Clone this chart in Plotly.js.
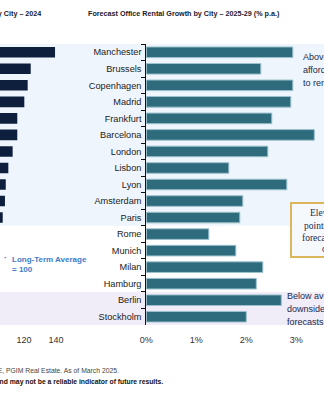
<!DOCTYPE html>
<html>
<head>
<meta charset="utf-8">
<script src="https://cdn.plot.ly/plotly-3.0.1.min.js"></script>
<style>
html,body{margin:0;padding:0;background:#fff;}
#chart{width:324px;height:400px;}
</style>
</head>
<body>
<div id="chart"></div>
<script>
// ---- data ----
const cities = ["Manchester","Brussels","Copenhagen","Madrid","Frankfurt","Barcelona","London","Lisbon","Lyon","Amsterdam","Paris","Rome","Munich","Milan","Hamburg","Berlin","Stockholm"];
const affordability2024 = [139.4,124.2,122.3,120.2,115.8,115.8,112.9,110.2,108.6,108.1,106.7,101,99,97,95,92,90];
const rentalGrowth2529 = [2.93,2.29,2.93,2.89,2.51,3.36,2.43,1.65,2.81,1.93,1.87,1.25,1.79,2.33,2.20,2.70,2.00];
const leftTicks = [120,140];
const rightTicks = [0,1,2,3];
const rightTickText = ["0%","1%","2%","3%"];

// ---- geometry helpers ----
const W = 324, TOP = 44, BOTTOM = 325;
const H = BOTTOM - TOP;
const xp = px => px / W;
const yp = py => (BOTTOM - py) / H;

const SANS = '"Liberation Sans", Arial, sans-serif';
const SERIF = '"Liberation Serif", "DejaVu Serif", serif';
const NAVY = '#0d1f3c';
const TEAL = '#2e6b7d';
const TXT = '#1b2a4e';

const traces = [
  {
    type: 'bar', orientation: 'h',
    x: affordability2024, y: cities,
    xaxis: 'x', yaxis: 'y2',
    marker: {color: NAVY},
    hoverinfo: 'skip'
  },
  {
    type: 'bar', orientation: 'h',
    x: rentalGrowth2529, y: cities,
    xaxis: 'x2', yaxis: 'y',
    marker: {color: TEAL, line: {color: '#9cc0cc', width: 1}},
    hoverinfo: 'skip'
  }
];

function ann(text, x, y, opts) {
  return Object.assign({
    text: text, xref: 'paper', yref: 'paper', x: xp(x), y: yp(y),
    xanchor: 'left', yanchor: 'middle', showarrow: false,
    font: {family: SANS, size: 9, color: TXT}
  }, opts || {});
}

const annotations = [
  ann('<b>Office Affordability by City – 2024</b>', 43, 13, {xanchor: 'right', font: {family: SANS, size: 7.2, color: '#1a1a2e'}}),
  ann('<b>Forecast Office Rental Growth by City – 2025-29 (% p.a.)</b>', 86, 13, {font: {family: SANS, size: 7.2, color: '#1a1a2e'}}),
  ann('Above average', 301, 57, {font: {family: SANS, size: 9, color: TXT}}),
  ann('affordability: upside', 301, 70, {font: {family: SANS, size: 9, color: TXT}}),
  ann('to rental forecasts', 301, 83, {font: {family: SANS, size: 9, color: TXT}}),
  ann('Below average', 285, 296, {font: {family: SANS, size: 9, color: TXT}}),
  ann('downside risk to', 285, 309, {font: {family: SANS, size: 9, color: TXT}}),
  ann('forecasts', 285, 322, {font: {family: SANS, size: 9, color: TXT}}),
  ann('Eleven', 308, 213, {font: {family: SERIF, size: 9.5, color: TXT}}),
  ann('points', 302, 226, {font: {family: SERIF, size: 9.5, color: TXT}}),
  ann('forecasts', 300, 238, {font: {family: SERIF, size: 9.5, color: TXT}}),
  ann('of', 320, 249, {font: {family: SERIF, size: 9.5, color: TXT}}),
  ann('<b>·</b>', 2, 258, {font: {family: SANS, size: 9, color: '#3d7cc9'}}),
  ann('<b>Long-Term Average</b>', 10, 259, {font: {family: SANS, size: 8, color: '#3d7cc9'}}),
  ann('<b>= 100</b>', 10, 269, {font: {family: SANS, size: 8, color: '#3d7cc9'}}),
  ann('Source: CBRE, PGIM Real Estate. As of March 2025.', 121, 370, {xanchor: 'right', font: {family: SANS, size: 6.8, color: '#444'}}),
  ann('<b>Past performance is not guaranteed and may not be a reliable indicator of future results.</b>', 165, 382, {xanchor: 'right', font: {family: SANS, size: 6.8, color: '#111'}})
];

const shapes = [
  {type: 'rect', xref: 'paper', yref: 'y', x0: 0, x1: 1, y0: -0.5, y1: 10.5, fillcolor: '#eef5fc', line: {width: 0}, layer: 'below'},
  {type: 'rect', xref: 'paper', yref: 'y', x0: 0, x1: 1, y0: 14.5, y1: 16.5, fillcolor: '#f0ecf8', line: {width: 0}, layer: 'below'},
  {type: 'rect', xref: 'paper', yref: 'paper', x0: xp(291), x1: xp(345), y0: yp(203), y1: yp(257), fillcolor: '#f6f9fc', line: {color: '#dbb65c', width: 2}, layer: 'above'}
];

const layout = {
  width: 324, height: 400,
  margin: {l: 0, r: 0, t: TOP, b: 400 - BOTTOM, pad: 0},
  paper_bgcolor: '#ffffff', plot_bgcolor: 'rgba(0,0,0,0)',
  showlegend: false,
  bargap: 0.36,
  font: {family: SANS, size: 9, color: '#222'},
  xaxis: {
    domain: [0, xp(70)], range: [105, 105 + 70 / 1.6],
    tickvals: leftTicks, showgrid: false, zeroline: false, showline: false,
    ticks: 'outside', ticklen: 6, tickcolor: 'rgba(0,0,0,0)',
    tickfont: {family: SANS, size: 9, color: '#333'}, anchor: 'y2', fixedrange: true
  },
  yaxis2: {
    domain: [0, 1], anchor: 'x', type: 'category', categoryorder: 'array', categoryarray: cities,
    range: [16.5, -0.5], showticklabels: false, showgrid: false, zeroline: false, showline: false, ticks: ''
  },
  xaxis2: {
    domain: [xp(146.3), 1], range: [0, (W - 146.3) / 50],
    tickvals: rightTicks, ticktext: rightTickText, showgrid: false, zeroline: false, showline: false,
    ticks: 'outside', ticklen: 6, tickcolor: 'rgba(0,0,0,0)',
    tickfont: {family: SANS, size: 9, color: '#333'}, anchor: 'y', fixedrange: true
  },
  yaxis: {
    domain: [0, 1], anchor: 'x2', type: 'category', categoryorder: 'array', categoryarray: cities,
    range: [16.5, -0.5], showgrid: false, zeroline: false,
    showline: true, linecolor: '#111', linewidth: 1,
    ticks: 'outside', tickson: 'boundaries', ticklen: 4, tickcolor: '#111', tickwidth: 1,
    tickfont: {family: SANS, size: 9.2, color: '#222'}, ticklabelstandoff: 2
  },
  shapes: shapes,
  annotations: annotations
};

Plotly.newPlot('chart', traces, layout, {displayModeBar: false, staticPlot: true});
</script>
</body>
</html>
